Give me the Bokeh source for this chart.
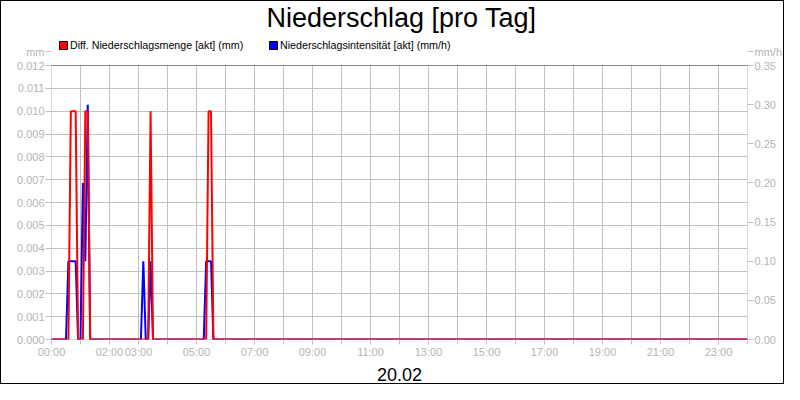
from bokeh.plotting import figure
from bokeh.models import (Range1d, LinearAxis, FixedTicker, Label, Legend,
                          LegendItem, ColumnDataSource, BoxAnnotation)
from bokeh.embed import file_html
from bokeh.resources import INLINE

# ---- data ----
title_text = "Niederschlag [pro Tag]"
date_text = "20.02"
red_name = "Diff. Niederschlagsmenge [akt] (mm)"
blue_name = "Niederschlagsintensität [akt] (mm/h)"
left_unit = "mm"
right_unit = "mm/h"

red_minutes = [0, 35, 40, 45, 50, 55, 60, 65, 70, 75, 80, 200, 205, 210,
               320, 325, 330, 335, 1440]
red_values = [0, 0, 0.01, 0.01, 0.01, 0, 0, 0, 0.01, 0.01, 0, 0, 0.01, 0,
              0, 0.01, 0.01, 0, 0]

blue_minutes = [0, 30, 35, 40, 45, 50, 55, 60, 65, 70, 75, 80, 185, 190, 195,
                200, 205, 210, 315, 320, 325, 330, 335, 1440]
blue_values = [0, 0, 0.1, 0.1, 0.1, 0.1, 0, 0, 0.2, 0.1, 0.3, 0, 0, 0.1, 0,
               0, 0.1, 0, 0, 0.1, 0.1, 0.1, 0, 0]

tick_hours = list(range(0, 25))
tick_labels = {0: "00:00", 2: "02:00", 3: "03:00", 5: "05:00", 7: "07:00",
               9: "09:00", 11: "11:00", 13: "13:00", 15: "15:00",
               17: "17:00", 19: "19:00", 21: "21:00", 23: "23:00"}
left_max = 0.012
right_max = 0.35
left_ticks = [i / 1000 for i in range(0, 13)]
right_ticks = [i * 0.05 for i in range(0, 8)]

# ---- layout (pixels) ----
W, H = 784, 384
BOX_L, BOX_R = 50, 751      # plot box left/right
BOX_T, BOX_B = 64, 338      # plot box top/bottom
UNIT_Y = 50                 # unit labels row
FONT = "Liberation Sans"
GRAY = "#b4b4b4"
GRID = "#c0c0c0"
NAN = float("nan")

box_h = BOX_B - BOX_T
# frame spans from the figure top to the plot box bottom
left_end = left_max * BOX_B / box_h
right_end = right_max * BOX_B / box_h
left_unit_pos = left_max * (BOX_B - UNIT_Y) / box_h
right_unit_pos = right_max * (BOX_B - UNIT_Y) / box_h

p = figure(width=W, height=H, output_backend="svg", toolbar_location=None,
           x_range=Range1d(0, 24), y_range=Range1d(0, left_end),
           min_border_left=BOX_L, min_border_right=W - BOX_R,
           min_border_top=0, min_border_bottom=H - BOX_B)
p.extra_y_ranges = {"right": Range1d(0, right_end)}
p.styles = {"border": "1px solid black"}
p.background_fill_color = "white"
p.border_fill_color = "white"
p.outline_line_color = None

# grids (limited to the plot box)
p.xgrid.ticker = FixedTicker(ticks=tick_hours)
p.xgrid.cross_bounds = (0, left_max)
p.ygrid.ticker = FixedTicker(ticks=left_ticks)
p.xgrid.grid_line_color = GRID
p.ygrid.grid_line_color = GRID

# plot box border
p.add_layout(BoxAnnotation(left=0, right=24, bottom=0, top=left_max,
                           fill_color=None, line_color="black", line_width=1,
                           level="underlay"))

def style_axis(ax):
    ax.major_label_text_font = FONT
    ax.major_label_text_font_size = "11px"
    ax.major_label_text_color = GRAY
    ax.major_tick_line_color = GRID
    ax.major_tick_in = 0
    ax.major_tick_out = 5
    ax.minor_tick_line_color = None
    ax.axis_line_color = None
    ax.major_label_standoff = 1

xa = p.xaxis[0]
xa.ticker = FixedTicker(ticks=tick_hours)
xa.major_label_overrides = {h: tick_labels.get(h, "") for h in tick_hours}
style_axis(xa)
xa.axis_label = date_text
xa.axis_label_text_font = FONT
xa.axis_label_text_font_size = "18px"
xa.axis_label_text_font_style = "normal"
xa.axis_label_text_color = "black"
xa.axis_label_standoff = 7

ya = p.yaxis[0]
ya.ticker = FixedTicker(ticks=left_ticks + [left_unit_pos])
ya.bounds = (0, left_unit_pos)
ov = {t: f"{t:.3f}" for t in left_ticks}
ov[left_unit_pos] = left_unit
ya.major_label_overrides = ov
style_axis(ya)
ya.major_tick_out = 6

ra = LinearAxis(y_range_name="right",
                ticker=FixedTicker(ticks=right_ticks + [right_unit_pos]))
ra.bounds = (0, right_unit_pos)
ov = {t: f"{t:.2f}" for t in right_ticks}
ov[right_unit_pos] = right_unit
ra.major_label_overrides = ov
style_axis(ra)
ra.major_tick_out = 6
p.add_layout(ra, "right")

# series
red_src = ColumnDataSource(dict(x=[m / 60 for m in red_minutes], y=red_values))
blue_src = ColumnDataSource(dict(x=[m / 60 for m in blue_minutes], y=blue_values))
p.line("x", "y", source=blue_src, line_color="#0000ff", line_width=2,
       y_range_name="right")
p.line("x", "y", source=red_src, line_color="#ff0000", line_width=2)

# legend swatches (renderers that draw nothing in the plot)
sw_red = p.quad(left=[NAN], right=[NAN], top=[NAN], bottom=[NAN],
                fill_color="#ff0000", line_color="black")
sw_blue = p.quad(left=[NAN], right=[NAN], top=[NAN], bottom=[NAN],
                 fill_color="#0000ff", line_color="black")

def make_legend(r, name, x, y):
    lg = Legend(items=[LegendItem(label=name, renderers=[r])], location=(x, y),
                orientation="horizontal", glyph_width=10, glyph_height=10,
                label_height=10, label_width=10, label_standoff=2, padding=0,
                margin=0, spacing=0, border_line_color=None,
                background_fill_alpha=0, label_text_font=FONT,
                label_text_font_size="10.7px", label_text_color="black")
    p.add_layout(lg, "center")

make_legend(sw_red, red_name, 57 - BOX_L, BOX_B - 50)
make_legend(sw_blue, blue_name, 267 - BOX_L, BOX_B - 50)

# title
p.add_layout(Label(x=400 - BOX_L, y=BOX_B - 16.3, x_units="screen",
                   y_units="screen", text=title_text, text_font=FONT,
                   text_font_size="27px", text_align="center",
                   text_baseline="alphabetic", text_color="black"))

open("out.html", "w").write(file_html(p, INLINE))
